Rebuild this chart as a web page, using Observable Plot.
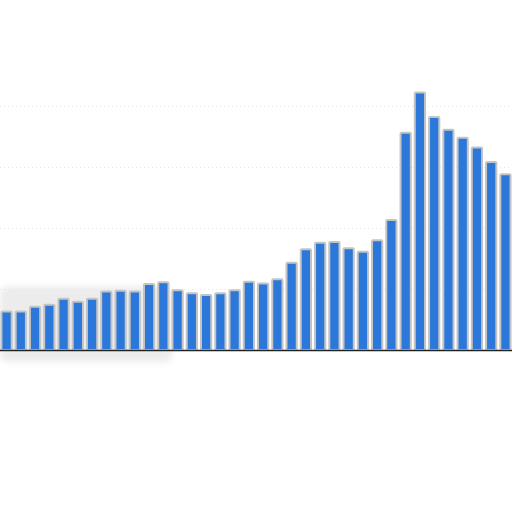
<!DOCTYPE html>
<html>
<head>
<meta charset="utf-8">
<script src="https://cdn.jsdelivr.net/npm/d3@7"></script>
<script src="https://cdn.jsdelivr.net/npm/@observablehq/plot@0.6"></script>
<style>
  html, body { margin: 0; padding: 0; background: #fff; }
  #chart svg { display: block; }
</style>
</head>
<body>
<div id="chart"></div>
<script>
const categories = Array.from({length: 36}, (_, i) => String(i + 1));
const values = [63, 63, 71, 74, 84, 79, 84, 96, 97, 96, 108, 111, 98, 93, 90, 93, 98, 112,
                 109, 116, 143, 165, 176, 177, 167, 161, 180, 213, 356, 422, 382, 361, 348, 332, 308, 288];
const gridValues = [100, 200, 300, 400];
const shadeRange = {from: "1", to: "12", low: -20, high: 104};

const data = categories.map((c, i) => ({cat: c, value: values[i]}));

const plot = Plot.plot({
  width: 512,
  height: 512,
  marginLeft: 0,
  marginRight: 0,
  marginTop: 106,
  marginBottom: 162,
  style: {background: "white", overflow: "visible"},
  x: {type: "band", domain: categories, paddingInner: 0.28, paddingOuter: 0.1, round: false, axis: null},
  y: {domain: [0, 400], axis: null},
  marks: [
    Plot.ruleY(gridValues, {stroke: "#e6e6e6", strokeDasharray: "1,3", strokeWidth: 1}),
    Plot.barY(data, {x: "cat", y: "value", fill: "#2b78da", stroke: "#c4c4c4", strokeWidth: 2, strokeLinejoin: "round", rx: 1}),
    Plot.ruleY([0], {stroke: "#222", strokeWidth: 1.5})
  ]
});

// faint grey shading behind the left bars, positioned through the plot's scales
const xs = plot.scale("x"), ys = plot.scale("y");
const x0 = 0;
const x1 = xs.apply(shadeRange.to) + xs.bandwidth + 4;
const yTop = ys.apply(shadeRange.high), yBot = ys.apply(shadeRange.low);
const svg = d3.select(plot);
const defs = svg.insert("defs", ":first-child");
defs.append("filter").attr("id", "blurShade").attr("x", "-20%").attr("y", "-20%").attr("width", "140%").attr("height", "140%")
  .append("feGaussianBlur").attr("stdDeviation", 3);
svg.insert("rect", "defs + *")
  .attr("x", x0).attr("y", yTop)
  .attr("width", x1 - x0).attr("height", yBot - yTop)
  .attr("rx", 8)
  .attr("fill", "#ececec")
  .attr("filter", "url(#blurShade)");

document.getElementById("chart").appendChild(plot);
</script>
</body>
</html>
